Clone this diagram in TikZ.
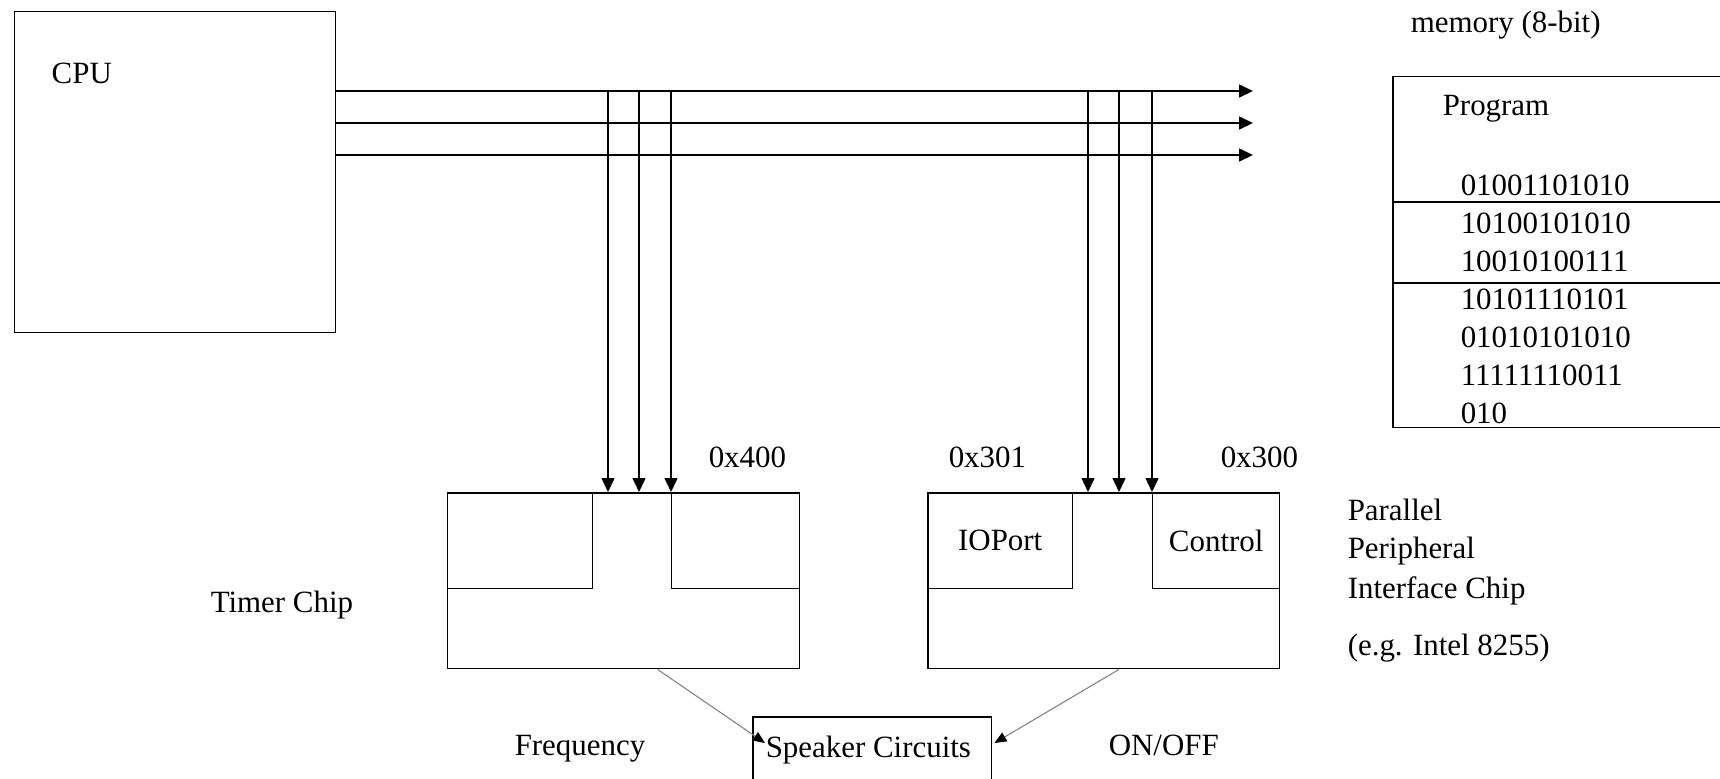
\documentclass[tikz,border=0pt]{standalone}
\usepackage{fontspec}
\setmainfont{Liberation Serif}
\usetikzlibrary{arrows.meta,positioning,calc}

\begin{document}
\begin{tikzpicture}[x=0.02cm,y=-0.02cm,line width=0.85pt,
  every node/.style={font=\fontsize{17.6}{21}\selectfont},
  box/.style={rectangle,draw,line width=0.85pt,inner sep=0pt},
  txt/.style={anchor=base west,inner sep=0pt},
  busline/.style={-{Triangle[length=0.28cm,width=0.26cm]}},
  tap/.style={-{Triangle[length=0.28cm,width=0.26cm]}},
  feed/.style={gray,line width=0.6pt,-{Triangle[length=0.24cm,width=0.2cm,black]}}]
  \useasboundingbox (0,0) rectangle (1720,778);
  \clip (0,0) rectangle (1720,778);
  \node[box,anchor=north west,minimum width=6.42cm,minimum height=6.42cm] (cpu) at (14,11) {};
  \node[txt] (cpulbl) at (51,83) {CPU};
  \coordinate (busA) at (1253,91);
  \coordinate (busB) at (1253,123);
  \coordinate (busC) at (1253,155);
  \foreach \b in {busA,busB,busC}{\draw[busline] (cpu.east |- \b) -- (\b);}
  \node[box,anchor=north west,minimum width=7.04cm,minimum height=3.52cm] (timer) at (447,492) {};
  \node[box,anchor=north west,minimum width=2.9cm,minimum height=1.92cm] (timerA) at (timer.north west) {};
  \node[box,anchor=north east,minimum width=2.56cm,minimum height=1.92cm] (timerB) at (timer.north east) {};
  \node[box,anchor=north west,minimum width=7.04cm,minimum height=3.52cm] (ppi) at (927,492) {};
  \node[box,anchor=north west,minimum width=2.9cm,minimum height=1.92cm] (ioport) at (ppi.north west) {};
  \node[box,anchor=north east,minimum width=2.54cm,minimum height=1.92cm] (ctrl) at (ppi.north east) {};
  \node[font=\fontsize{17.6}{21}\selectfont] at (ioport.center) {IOPort};
  \node[font=\fontsize{17.6}{21}\selectfont] at (ctrl.center) {Control};
  \foreach \x in {608,639,671}{\draw[tap] (\x,0 |- busA) -- (\x,0 |- timer.north);}
  \foreach \x in {1088,1119,1152}{\draw[tap] (\x,0 |- busA) -- (\x,0 |- ppi.north);}
  \node[txt] (addr400) at (708,467) {0x400};
  \node[txt] (addr301) at (948,467) {0x301};
  \node[txt] (addr300) at (1220,467) {0x300};
  \node[txt] (timerlbl) at (210,612) {Timer Chip};
  \node[txt] (ppiA) at (1347,520) {Parallel};
  \node[txt] (ppiB) at (1347,558) {Peripheral};
  \node[txt] (ppiC) at (1347,598) {Interface Chip};
  \node[txt] (ppiD) at (1347,655) {(e.g. Intel 8255)};
  \node[box,anchor=north west,minimum width=4.78cm,minimum height=1.3cm] (speaker) at (752,716) {};
  \node[txt] (spklbl) at (765,757) {Speaker Circuits};
  \draw[feed] ($(timer.south west)!0.596!(timer.south east)$) -- ($(speaker.north west)+(13,27)$);
  \draw[feed] ($(ppi.south west)!0.543!(ppi.south east)$) -- ($(speaker.north east)+(2,27)$);
  \node[txt] (freq) at (514,755) {Frequency};
  \node[txt] (onoff) at (1108,755) {ON/OFF};
  \node[txt] (memlbl) at (1410,32) {memory (8-bit)};
  \node[box,anchor=north west,minimum width=6.8cm,minimum height=7.02cm] (mem) at (1392,76) {};
  \node[txt] (prog) at (1442,115) {Program};
  \foreach \bits [count=\i] in {01001101010,10100101010,10010100111,10101110101,01010101010,11111110011,010}{
    \node[txt] (bin\i) at (1460,157+38*\i) {\bits};}
  \draw (mem.west |- 0,202) -- (mem.east |- 0,202);
  \draw (mem.west |- 0,283) -- (mem.east |- 0,283);
\end{tikzpicture}
\end{document}
